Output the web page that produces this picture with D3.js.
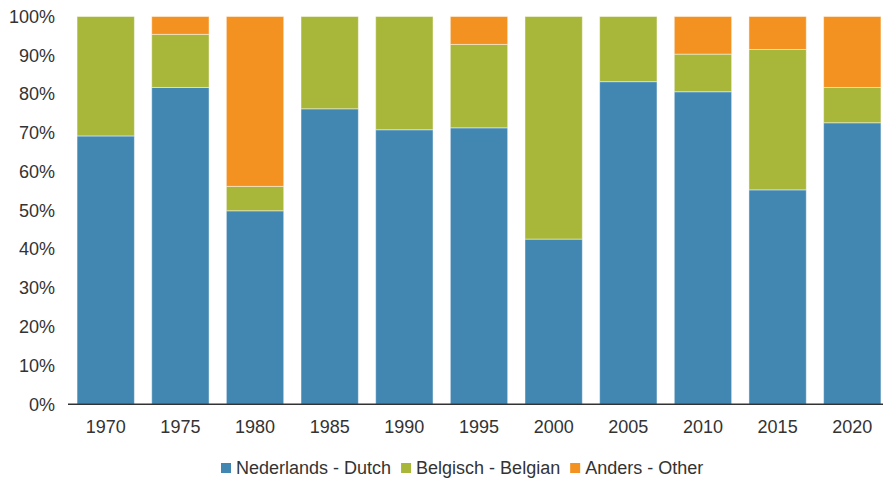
<!DOCTYPE html>
<meta charset="utf-8">
<script src="https://d3js.org/d3.v7.min.js"></script>
<style>
  body { margin: 0; background: #fff; }
  text { font-family: "Liberation Sans", Arial, sans-serif; fill: #333; }
</style>
<div id="chart"></div>
<script>
  // data (percent of total)
  var years = ["1970", "1975", "1980", "1985", "1990", "1995", "2000", "2005", "2010", "2015", "2020"];
  var dutch   = [69.2, 81.7, 49.9, 76.2, 70.8, 71.3, 42.6, 83.2, 80.6, 55.3, 72.6];
  var belgian = [30.8, 13.7,  6.3, 23.8, 29.2, 21.5, 57.4, 16.8,  9.7, 36.2,  9.1];
  var other   = [ 0.0,  4.6, 43.8,  0.0,  0.0,  7.2,  0.0,  0.0,  9.7,  8.5, 18.3];
  var seriesNames = ["Nederlands - Dutch", "Belgisch - Belgian", "Anders - Other"];
  var colors = ["#4287b2", "#a8b73a", "#f39220"];
  var yTicks = [0, 10, 20, 30, 40, 50, 60, 70, 80, 90, 100];

  var W = 883, H = 479;
  var FONT = "18px";
  var svg = d3.select("#chart").append("svg")
    .attr("width", W).attr("height", H);

  var x = d3.scaleBand()
    .domain(years)
    .range([68.4, 889.6])
    .paddingInner(0.232)
    .paddingOuter(0.116);

  var y = d3.scaleLinear()
    .domain([0, 100])
    .range([404.3, 16.5]);

  // build table for the stack
  var table = years.map(function (yr, i) {
    return { year: yr, dutch: dutch[i], belgian: belgian[i], other: other[i] };
  });
  var stacked = d3.stack().keys(["dutch", "belgian", "other"])(table);

  svg.append("g")
    .selectAll("g")
    .data(stacked)
    .join("g")
    .attr("fill", function (d, i) { return colors[i]; })
    .selectAll("rect")
    .data(function (d) { return d.filter(function (p) { return p[1] - p[0] > 0; }); })
    .join("rect")
    .attr("x", function (d) { return x(d.data.year); })
    .attr("y", function (d) { return y(d[1]); })
    .attr("width", x.bandwidth())
    .attr("height", function (d) { return y(d[0]) - y(d[1]); })
    .attr("stroke", "#ffffff")
    .attr("stroke-opacity", 0.45)
    .attr("stroke-width", 1);

  // y axis labels
  var yAxis = svg.append("g")
    .attr("transform", "translate(55,0)")
    .call(d3.axisLeft(y).tickValues(yTicks).tickSize(0).tickPadding(0)
      .tickFormat(function (d) { return d + "%"; }));
  yAxis.select(".domain").remove();
  yAxis.selectAll("text")
    .attr("font-size", FONT)
    .attr("font-family", "Liberation Sans, Arial, sans-serif")
    .attr("fill", "#333");

  // x axis
  var xAxis = svg.append("g")
    .attr("transform", "translate(0," + y(0) + ")")
    .call(d3.axisBottom(x).tickSize(0).tickPadding(16));
  xAxis.select(".domain").remove();
  xAxis.selectAll("text")
    .attr("font-size", FONT)
    .attr("font-family", "Liberation Sans, Arial, sans-serif")
    .attr("fill", "#333");

  svg.append("line")
    .attr("x1", 68).attr("x2", 883)
    .attr("y1", y(0)).attr("y2", y(0))
    .attr("stroke", "#333")
    .attr("stroke-width", 1.5);

  // legend
  var legend = svg.append("g").attr("transform", "translate(221,468)");
  var lx = 0;
  seriesNames.forEach(function (name, i) {
    var g = legend.append("g").attr("transform", "translate(" + lx + ",0)");
    g.append("rect")
      .attr("x", 0).attr("y", -5)
      .attr("width", 10).attr("height", 10)
      .attr("fill", colors[i]);
    var t = g.append("text")
      .attr("x", 15).attr("y", 0)
      .attr("dy", "0.35em")
      .attr("font-size", FONT)
      .text(name);
    var w = t.node().getComputedTextLength();
    lx += 15 + w + 10;
  });
</script>
